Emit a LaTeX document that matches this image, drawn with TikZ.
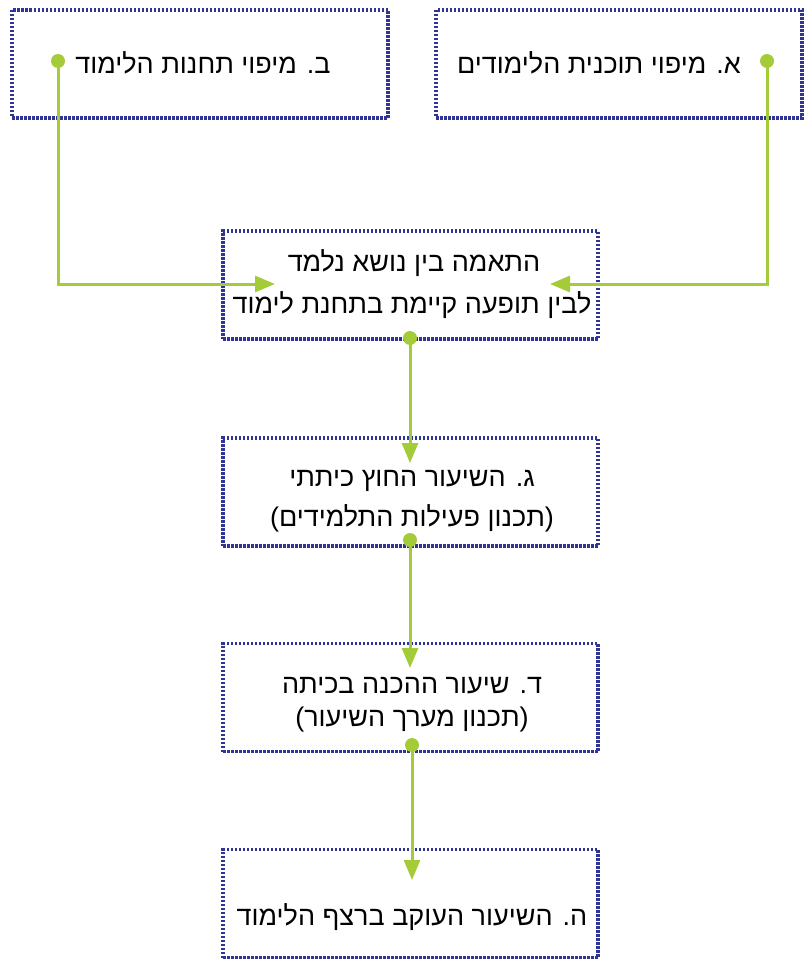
\documentclass[tikz,border=0pt]{standalone}
\usepackage{fontspec}
\newfontfamily\hebfont[Script=Hebrew]{Liberation Sans}
\TeXXeTstate=1
\usetikzlibrary{arrows.meta}
\definecolor{boxblue}{HTML}{303494}
\definecolor{linkgreen}{HTML}{A4CC39}
\tikzset{
    stagebox/.style={draw=boxblue, line width=3.5pt, dash pattern=on 2.5pt off 1.5pt,
        minimum height=108pt, inner sep=0pt},
    stagetext/.style={font=\hebfont\fontsize{27}{32}\selectfont, inner sep=0pt},
    linkdot/.style={circle, fill=linkgreen, minimum size=14pt, inner sep=0pt},
    link/.style={draw=linkgreen, line width=3pt, -{Triangle[length=20pt,width=16pt]}},
}
\newcommand\Heb[1]{\beginR #1\endR}
\newcommand\StageBox[3]{%
    \node[stagebox, minimum width=#3] (#1) at #2 {};
}
\begin{document}
\begin{tikzpicture}[x=1pt,y=-1pt]
    \useasboundingbox (0,0) rectangle (804,960);
    % boxes
    \StageBox{mapA}{(619,64)}{366pt}
    \StageBox{mapB}{(200,64)}{376pt}
    \StageBox{match}{(410.5,285)}{375pt}
    \StageBox{outdoor}{(410.5,492)}{375pt}
    \StageBox{prep}{(410.5,697.5)}{375pt}
    \StageBox{follow}{(410.5,903.5)}{375pt}
    % texts
    \node[stagetext, anchor=east] (tA) at (741,63) {\Heb{א. מיפוי תוכנית הלימודים}};
    \node[stagetext] (tB) at (203,63) {\Heb{ב. מיפוי תחנות הלימוד}};
    \node[stagetext] (tC1) at (414,263) {\Heb{התאמה בין נושא נלמד}};
    \node[stagetext] (tC2) at (412,305) {\Heb{לבין תופעה קיימת בתחנת לימוד}};
    \node[stagetext] (tG1) at (412,481) {\Heb{ג. השיעור החוץ כיתתי}};
    \node[stagetext] (tG2) at (412,518) {\Heb{(תכנון פעילות התלמידים)}};
    \node[stagetext] (tD1) at (412,686) {\Heb{ד. שיעור ההכנה בכיתה}};
    \node[stagetext] (tD2) at (412,720) {\Heb{(תכנון מערך השיעור)}};
    \node[stagetext] (tE) at (412,917) {\Heb{ה. השיעור העוקב ברצף הלימוד}};
    % dots and arrow ends
    \node[linkdot] (dotA) at (767,61) {};
    \node[linkdot] (dotB) at (58,61) {};
    \node[linkdot] (dotC) at (410,338) {};
    \node[linkdot] (dotG) at (410,540) {};
    \node[linkdot] (dotD) at (412,745) {};
    \coordinate (endA) at (550,284);
    \coordinate (endB) at (275,284);
    \coordinate (endG) at (410,463);
    \coordinate (endD) at (410,668);
    \coordinate (endE) at (410,880);
    % connectors
    \draw[link] (dotA.center) |- (endA);
    \draw[link] (dotB.center) |- (endB);
    \draw[link] (dotC.center) -- (endG);
    \draw[link] (dotG.center) -- (endD);
    \draw[link] (dotD.center) -- (dotD.center |- endE);
\end{tikzpicture}
\end{document}
